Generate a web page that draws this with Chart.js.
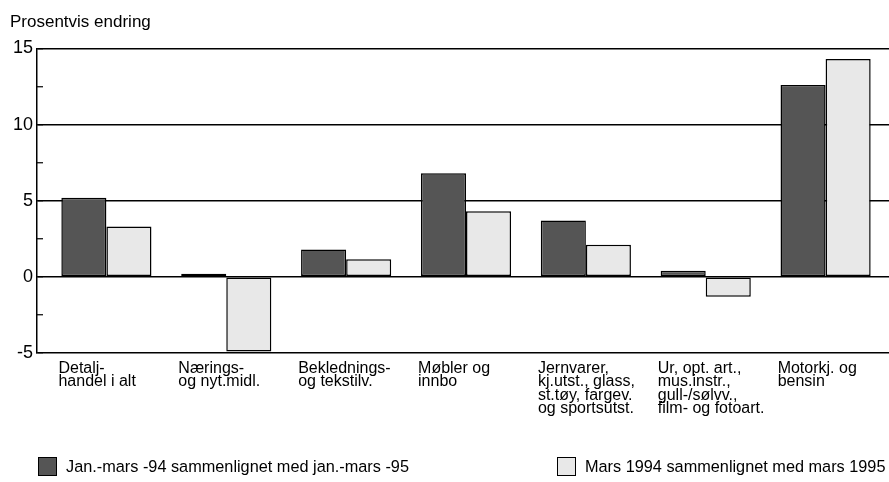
<!DOCTYPE html>
<html>
<head>
<meta charset="utf-8">
<script src="https://cdn.jsdelivr.net/npm/chart.js@4"></script>
<style>
  html, body { margin: 0; padding: 0; background: #fff; }
  #wrap { position: relative; width: 889px; height: 482px; }
  #legend { position: absolute; left: 0; top: 457px; width: 889px; height: 20px;
            font-family: "Liberation Sans", Arial, Helvetica, sans-serif; font-size: 16.3px; color: #000; }
  .item { position: absolute; top: 0; height: 20px; line-height: 19px; white-space: nowrap; }
  .box { position: absolute; top: 0; width: 17px; height: 17px; border: 1px solid #000; }
  .txt { position: absolute; top: 0; }
</style>
</head>
<body>
<div id="wrap">
  <canvas id="c" width="889" height="482"></canvas>
  <div id="legend"></div>
</div>
<script>
const CATEGORIES = [
  ["Detalj-", "handel i alt"],
  ["Nærings-", "og nyt.midl."],
  ["Beklednings-", "og tekstilv."],
  ["Møbler og", "innbo"],
  ["Jernvarer,", "kj.utst., glass,", "st.tøy, fargev.", "og sportsutst."],
  ["Ur, opt. art.,", "mus.instr.,", "gull-/sølvv.,", "film- og fotoart."],
  ["Motorkj. og", "bensin"]
];
const SERIES_NAMES = [
  "Jan.-mars -94 sammenlignet med jan.-mars -95",
  "Mars 1994 sammenlignet med mars 1995"
];
const JAN_MARS = [5.2, 0.2, 1.8, 6.8, 3.7, 0.4, 12.6];
const MARS = [3.3, -4.9, 1.15, 4.3, 2.1, -1.3, 14.3];
const Y_TICKS = [-5, 0, 5, 10, 15];
const TITLE = "Prosentvis endring";

const FONT = '"Liberation Sans", Arial, Helvetica, sans-serif';
const COLORS = ['#555555', '#e8e8e8'];

const datasets = [JAN_MARS, MARS].map((arr, k) => ({
  label: SERIES_NAMES[k],
  data: arr.map((v, i) => ({ x: i, y: v })),
  backgroundColor: COLORS[k],
  borderColor: '#000',
  borderWidth: 1.5,
  borderSkipped: false,
  categoryPercentage: 0.752,
  barPercentage: 1
}));

new Chart(document.getElementById('c'), {
  type: 'bar',
  data: { datasets },
  options: {
    responsive: false,
    animation: false,
    events: [],
    layout: { padding: { left: 10, right: 0, top: 0, bottom: 0 } },
    plugins: {
      legend: { display: false },
      tooltip: { enabled: false },
      title: {
        display: true, text: TITLE, align: 'start', color: '#000',
        font: { family: FONT, size: 17, weight: 'normal', lineHeight: 1.2 },
        padding: { top: 12, bottom: 16 }
      }
    },
    scales: {
      x: {
        type: 'linear',
        offset: false,
        min: -0.579, max: 6.529,
        grid: { display: false, drawTicks: false, offset: false },
        border: { display: false },
        afterBuildTicks: s => { s.ticks = CATEGORIES.map((c, i) => ({ value: i - 0.40 })); },
        afterFit: s => { s.height = 129; },
        ticks: {
          autoSkip: false, maxRotation: 0, minRotation: 0, align: 'start',
          padding: 9, color: '#000',
          font: { family: FONT, size: 16, lineHeight: 0.83 },
          callback: (v, idx) => CATEGORIES[idx]
        }
      },
      y: {
        min: -5, max: 15,
        afterBuildTicks: s => {
          const t = [];
          for (let v = -5; v <= 15; v += 2.5) t.push({ value: v });
          s.ticks = t;
        },
        afterFit: s => { s.width = 27; },
        grid: {
          color: ctx => (ctx.tick && Y_TICKS.includes(ctx.tick.value)) ? '#000' : 'rgba(0,0,0,0)',
          lineWidth: 1.5,
          drawTicks: true,
          tickLength: -6,
          tickColor: '#000',
          tickWidth: 1.2
        },
        border: { display: true, color: '#000', width: 1.5 },
        ticks: {
          padding: 10, color: '#000',
          font: { family: FONT, size: 18 },
          callback: v => Y_TICKS.includes(v) ? String(v) : ''
        }
      }
    }
  }
});

// legend as real text
const LEGEND_POS = [{ box: 38, text: 66 }, { box: 557, text: 585 }];
const lg = document.getElementById('legend');
SERIES_NAMES.forEach((name, k) => {
  const b = document.createElement('div');
  b.className = 'box';
  b.style.left = LEGEND_POS[k].box + 'px';
  b.style.background = COLORS[k];
  lg.appendChild(b);
  const t = document.createElement('div');
  t.className = 'txt item';
  t.style.left = LEGEND_POS[k].text + 'px';
  t.textContent = name;
  lg.appendChild(t);
});
</script>
</body>
</html>
